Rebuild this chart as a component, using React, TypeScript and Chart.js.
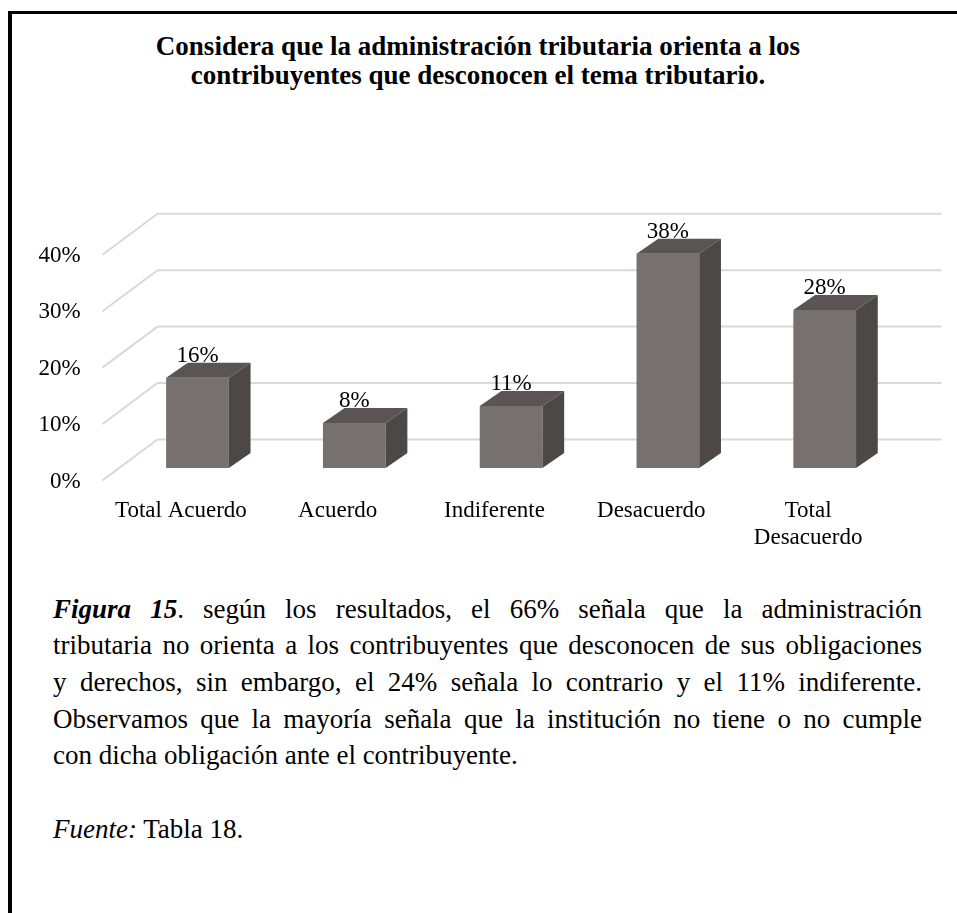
import React, { useEffect, useRef } from "react";
import { Chart, registerables } from "chart.js";

Chart.register(...registerables);

// ---- data ----
const categories: (string | string[])[] = [
  "Total Acuerdo",
  "Acuerdo",
  "Indiferente",
  "Desacuerdo",
  ["Total", "Desacuerdo"],
];
const values: number[] = [16, 8, 11, 38, 28];
const yTickValues: number[] = [0, 10, 20, 30, 40];
const titleLines: string[] = [
  "Considera que la administración tributaria orienta a los",
  "contribuyentes que desconocen el tema tributario.",
];

// ---- styling ----
const SERIF = "'Times New Roman', 'Liberation Serif', serif";
const FRONT = "#767170";
const TOP = "#5a5554";
const SIDE = "#4c4847";
const GRID = "#d9d9d9";
const BAR_DX = 21.7;
const BAR_DY = 15;
const FRONT_DX = -16.6;
const FRONT_DY = 12.4;
const BACK_DX = 38.4;
const BACK_DY = -28.6;

const depthPlugin = {
  id: "depth3d",
  beforeDatasetsDraw(chart: any) {
    const { ctx, chartArea, scales } = chart;
    const y = scales.y;
    ctx.save();
    ctx.strokeStyle = GRID;
    ctx.lineWidth = 2;
    for (const v of yTickValues) {
      const py = y.getPixelForValue(v);
      ctx.beginPath();
      ctx.moveTo(chartArea.left + FRONT_DX, py + FRONT_DY);
      ctx.lineTo(chartArea.left + BACK_DX, py + BACK_DY);
      ctx.lineTo(chartArea.right + BACK_DX, py + BACK_DY);
      ctx.stroke();
    }
    ctx.restore();
  },
  afterDatasetsDraw(chart: any) {
    const { ctx } = chart;
    const meta = chart.getDatasetMeta(0);
    const data = chart.data.datasets[0].data;
    ctx.save();
    meta.data.forEach((bar: any, i: number) => {
      const { x, y, base, width } = bar.getProps(["x", "y", "base", "width"], true);
      const l = x - width / 2;
      const r = x + width / 2;
      ctx.fillStyle = TOP;
      ctx.beginPath();
      ctx.moveTo(l, y);
      ctx.lineTo(r, y);
      ctx.lineTo(r + BAR_DX, y - BAR_DY);
      ctx.lineTo(l + BAR_DX, y - BAR_DY);
      ctx.closePath();
      ctx.fill();
      ctx.fillStyle = SIDE;
      ctx.beginPath();
      ctx.moveTo(r, y);
      ctx.lineTo(r + BAR_DX, y - BAR_DY);
      ctx.lineTo(r + BAR_DX, base - BAR_DY);
      ctx.lineTo(r, base);
      ctx.closePath();
      ctx.fill();
      ctx.fillStyle = "#000";
      ctx.font = `23px ${SERIF}`;
      ctx.textAlign = "center";
      ctx.textBaseline = "alphabetic";
      ctx.fillText(`${data[i]}%`, x, y - 16);
    });
    ctx.restore();
  },
};

function BarChart() {
  const ref = useRef<HTMLCanvasElement | null>(null);
  useEffect(() => {
    if (!ref.current) return;
    const chart = new Chart(ref.current, {
      type: "bar",
      data: {
        labels: categories as any,
        datasets: [
          {
            data: values,
            backgroundColor: FRONT,
            borderWidth: 0,
            categoryPercentage: 1,
            barPercentage: 0.4,
          },
        ],
      },
      options: {
        animation: false,
        responsive: false,
        maintainAspectRatio: false,
        devicePixelRatio: 1,
        layout: { padding: { top: 142.4, left: 0, right: 53.9, bottom: 0 } },
        plugins: {
          legend: { display: false },
          tooltip: { enabled: false },
          title: { display: false },
        },
        scales: {
          x: {
            grid: { display: false, drawTicks: false },
            border: { display: false },
            ticks: {
              color: "#000",
              font: { family: SERIF, size: 23, lineHeight: 1.2 },
              padding: 29,
              labelOffset: FRONT_DX,
              maxRotation: 0,
              autoSkip: false,
            },
            afterFit: (s: any) => {
              s.height = 92;
            },
          },
          y: {
            min: 0,
            max: 40,
            grid: { display: false, drawTicks: false },
            border: { display: false },
            ticks: {
              stepSize: 10,
              color: "#000",
              font: { family: SERIF, size: 23 },
              padding: 38.4,
              labelOffset: 13.5,
              callback: (v: any) => `${v}%`,
            },
            afterFit: (s: any) => {
              s.width = 107.1;
            },
          },
        },
      },
      plugins: [depthPlugin],
    });
    return () => chart.destroy();
  }, []);
  return (
    <canvas
      ref={ref}
      width={945}
      height={460}
      style={{ position: "absolute", left: 12, top: 100, width: 945, height: 460, display: "block" }}
    />
  );
}

const captionLine: React.CSSProperties = {
  height: 36.7,
  lineHeight: "36.7px",
  whiteSpace: "nowrap",
  textAlign: "justify",
  textAlignLast: "justify" as any,
};

export default function App() {
  return (
    <div style={{ fontFamily: SERIF, color: "#000" }}>
      <div
        style={{
          position: "absolute",
          left: 8,
          top: 11,
          width: 949,
          height: 902,
          boxSizing: "border-box",
          borderLeft: "4px solid #000",
          borderTop: "3px solid #000",
        }}
      />
      <div
        style={{
          position: "absolute",
          left: 0,
          top: 32,
          width: 956,
          textAlign: "center",
          fontWeight: "bold",
          fontSize: 27,
          lineHeight: "29px",
        }}
      >
        {titleLines.map((t, i) => (
          <div key={i}>{t}</div>
        ))}
      </div>
      <BarChart />
      <div
        style={{
          position: "absolute",
          left: 53,
          top: 590.5,
          width: 869,
          fontSize: 27,
        }}
      >
        <div style={captionLine}>
          <b>
            <i>Figura 15</i>
          </b>
          . según los resultados, el 66% señala que la administración
        </div>
        <div style={captionLine}>
          tributaria no orienta a los contribuyentes que desconocen de sus obligaciones
        </div>
        <div style={captionLine}>
          y derechos, sin embargo, el 24% señala lo contrario y el 11% indiferente.
        </div>
        <div style={captionLine}>
          Observamos que la mayoría señala que la institución no tiene o no cumple
        </div>
        <div style={{ ...captionLine, textAlign: "left", textAlignLast: "left" as any }}>
          con dicha obligación ante el contribuyente.
        </div>
        <div style={{ height: 36.7 }} />
        <div style={{ ...captionLine, textAlign: "left", textAlignLast: "left" as any }}>
          <i>Fuente:</i> Tabla 18.
        </div>
      </div>
    </div>
  );
}
